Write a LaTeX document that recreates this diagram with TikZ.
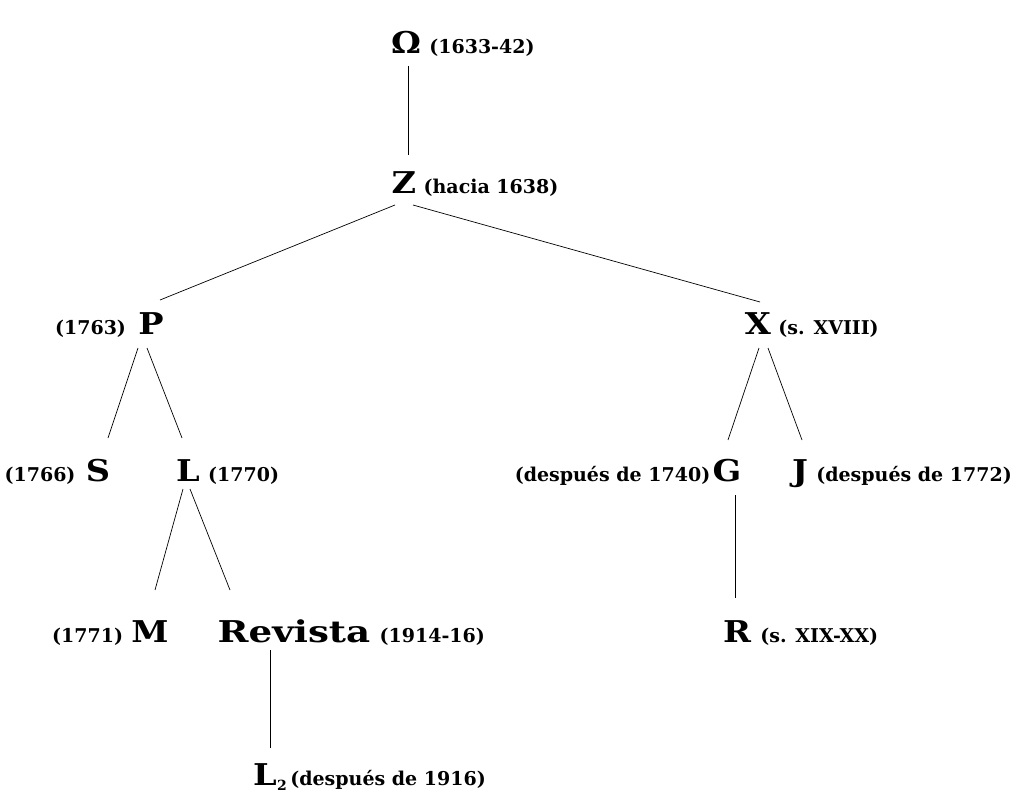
\documentclass[tikz,border=0pt]{standalone}
\usepackage{fontspec}
\setmainfont{DejaVu Serif}
\newfontfamily\bigfont[FakeStretch=1.12]{DejaVu Serif}
\newfontfamily\widefont[FakeStretch=1.24]{DejaVu Serif}
\tikzset{
  big/.style={font=\bigfont\fontsize{30}{32}\selectfont\bfseries, inner sep=0pt, anchor=base},
  lbl/.style={font=\fontsize{19}{21}\selectfont\bfseries, inner sep=0pt},
  edge/.style={line width=0.7pt, black}
}
\begin{document}
\begin{tikzpicture}[x=1pt,y=-1pt]
\useasboundingbox (0,0) rectangle (1014,792);
% main letters
\node[big] (O) at (406,53) {Ω};
\node[big] (Z) at (404,193) {Z};
\node[big] (P) at (151,334) {P};
\node[big] (X) at (758,334) {X};
\node[big] (S) at (98,481) {S};
\node[big] (L) at (188,481) {L};
\node[big] (G) at (727,481) {G};
\node[big] (J) at (800,481) {J};
\node[big] (M) at (150,642) {M};
\node[big,font=\widefont\fontsize{30}{32}\selectfont\bfseries] (Rev) at (294,642) {Revista};
\node[big] (R) at (737,642) {R};
\node[big] (L2) at (265,785) {L};
% labels
\node[lbl,anchor=base west] (Ot) at ([xshift=8pt]O.base east) {(1633-42)};
\node[lbl,anchor=base west] (Zt) at ([xshift=7pt]Z.base east) {(hacia 1638)};
\node[lbl,anchor=base east] (Pt) at ([xshift=-12pt]P.base west) {(1763)};
\node[lbl,anchor=base west] (Xt) at ([xshift=7pt]X.base east) {(s. XVIII)};
\node[lbl,anchor=base east] (St) at ([xshift=-10pt]S.base west) {(1766)};
\node[lbl,anchor=base west] (Lt) at ([xshift=8pt]L.base east) {(1770)};
\node[lbl,anchor=base east] (Gt) at ([xshift=-2pt]G.base west) {(después de 1740)};
\node[lbl,anchor=base west] (Jt) at ([xshift=8pt]J.base east) {(después de 1772)};
\node[lbl,anchor=base east] (Mt) at ([xshift=-8pt]M.base west) {(1771)};
\node[lbl,anchor=base west] (Revt) at ([xshift=9pt]Rev.base east) {(1914-16)};
\node[lbl,anchor=base west] (Rt) at ([xshift=9pt]R.base east) {(s. XIX-XX)};
\node[lbl,anchor=base west] (L2s) at ([xshift=0pt,yshift=-5pt]L2.base east) {\fontsize{14}{14}\selectfont 2};
\node[lbl,anchor=base west] (L2t) at ([xshift=3pt,yshift=5pt]L2s.base east) {(después de 1916)};
% connectors
\draw[edge] ([xshift=2pt,yshift=-13pt]O.base) -- ([xshift=4pt,yshift=38pt]Z.base);
\draw[edge] ([xshift=-9pt,yshift=-12pt]Z.base) -- ([xshift=9pt,yshift=34pt]P.base);
\draw[edge] ([xshift=9pt,yshift=-12pt]Z.base) -- ([xshift=2pt,yshift=32pt]X.base);
\draw[edge] ([xshift=-13pt,yshift=-14pt]P.base) -- ([xshift=10pt,yshift=43pt]S.base);
\draw[edge] ([xshift=-4pt,yshift=-14pt]P.base) -- ([xshift=-6pt,yshift=43pt]L.base);
\draw[edge] ([xshift=1pt,yshift=-14pt]X.base) -- ([xshift=1pt,yshift=41pt]G.base);
\draw[edge] ([xshift=10pt,yshift=-14pt]X.base) -- ([xshift=2pt,yshift=41pt]J.base);
\draw[edge] ([xshift=-5pt,yshift=-8pt]L.base) -- ([xshift=5pt,yshift=52pt]M.base);
\draw[edge] ([xshift=2pt,yshift=-8pt]L.base) -- ([xshift=-64pt,yshift=52pt]Rev.base);
\draw[edge] ([xshift=-24pt,yshift=-8pt]Rev.base) -- ([xshift=5pt,yshift=37pt]L2.base);
\draw[edge] ([xshift=8pt,yshift=-14pt]G.base) -- ([xshift=-2pt,yshift=44pt]R.base);
\end{tikzpicture}
\end{document}
